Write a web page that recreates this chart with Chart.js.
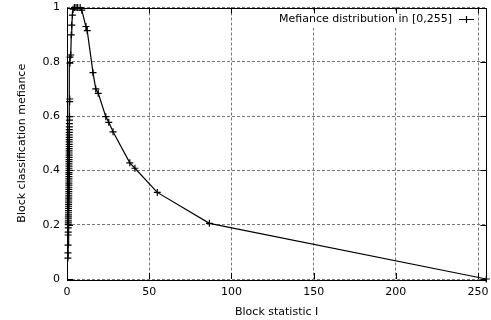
<!DOCTYPE html>
<html>
<head>
<meta charset="utf-8">
<script src="https://cdn.jsdelivr.net/npm/chart.js@4/dist/chart.umd.min.js"></script>
<style>
  html, body { margin: 0; padding: 0; background: #fff; }
  #wrap { width: 491px; height: 320px; }
</style>
</head>
<body>
<div id="wrap"><canvas id="c" width="491" height="320"></canvas></div>
<script>
const seriesLabel = "Mefiance distribution in [0,255]";
const xTitle = "Block statistic I";
const yTitle = "Block classification mefiance";

const statisticI = [
  0.55, 0.6, 0.65, 0.7, 0.72, 0.75, 0.78, 0.8, 0.82, 0.84,
  0.86, 0.88, 0.9, 0.92, 0.94, 0.96, 0.98, 1.0, 1.02, 1.04,
  1.06, 1.08, 1.1, 1.11, 1.12, 1.13, 1.14, 1.15, 1.16, 1.17,
  1.18, 1.19, 1.2, 1.21, 1.22, 1.23, 1.24, 1.25, 1.26, 1.27,
  1.28, 1.29, 1.3, 1.31, 1.32, 1.33, 1.34, 1.35, 1.36, 1.38,
  1.4, 1.42, 1.45, 1.5, 1.55, 1.6, 1.65, 1.8, 1.85, 2.3,
  2.6, 2.9, 3.3, 3.7, 4.5, 5.5, 6.5, 8.0, 9.0, 11.5,
  12.3, 15.8, 17.5, 19.0, 23.6, 25.4, 28.0, 38.2, 41.3, 54.9,
  86.6, 255
];
const mefiance = [
  0.077, 0.096, 0.125, 0.162, 0.173, 0.188, 0.200, 0.207, 0.214, 0.222,
  0.229, 0.236, 0.244, 0.252, 0.260, 0.268, 0.275, 0.283, 0.291, 0.298,
  0.306, 0.314, 0.322, 0.330, 0.338, 0.346, 0.353, 0.361, 0.369, 0.377,
  0.385, 0.392, 0.400, 0.408, 0.416, 0.424, 0.432, 0.440, 0.448, 0.456,
  0.464, 0.472, 0.480, 0.488, 0.496, 0.505, 0.513, 0.522, 0.531, 0.540,
  0.550, 0.560, 0.572, 0.585, 0.598, 0.653, 0.663, 0.795, 0.817, 0.825,
  0.899, 0.935, 0.972, 0.994, 1.000, 1.000, 1.000, 1.000, 0.990, 0.930,
  0.915, 0.760, 0.700, 0.684, 0.598, 0.577, 0.542, 0.428, 0.408, 0.319,
  0.205, 0.0
];
const xTickValues = [0, 50, 100, 150, 200, 250];
const yTickValues = [0, 0.2, 0.4, 0.6, 0.8, 1];
const yTickLabels = ["0", "0.2", "0.4", "0.6", "0.8", "1"];

const points = statisticI.map((x, i) => ({ x: x, y: mefiance[i] }));

const FONT = { family: "'DejaVu Sans', sans-serif", size: 11 };

const framePlugin = {
  id: 'frame',
  afterDraw(chart) {
    const ctx = chart.ctx;
    const a = chart.chartArea;
    const xs = chart.scales.x, ys = chart.scales.y;
    ctx.save();
    // legend (opaque key)
    const ds = chart.data.datasets[0];
    ctx.font = "11px 'DejaVu Sans', sans-serif";
    const textRight = 452, cy = 19;
    const tw = ctx.measureText(ds.label).width;
    ctx.fillStyle = '#fff';
    ctx.fillRect(textRight - tw - 3, cy - 8, (476 - (textRight - tw - 3)), 17);
    ctx.fillStyle = '#000';
    ctx.textAlign = 'right';
    ctx.textBaseline = 'middle';
    ctx.fillText(ds.label, textRight, cy);
    ctx.strokeStyle = '#000';
    ctx.lineWidth = 1.2;
    ctx.beginPath();
    ctx.moveTo(459, cy + 0.5); ctx.lineTo(474, cy + 0.5);
    ctx.moveTo(466.5, cy - 3); ctx.lineTo(466.5, cy + 4);
    ctx.stroke();
    // border
    ctx.lineWidth = 1;
    ctx.strokeStyle = '#000';
    ctx.strokeRect(Math.round(a.left) + 0.5, Math.round(a.top) + 0.5,
                   Math.round(a.right - a.left), Math.round(a.bottom - a.top));
    // inward ticks
    const L = 6;
    ctx.beginPath();
    xs.ticks.forEach(t => {
      const px = Math.round(xs.getPixelForValue(t.value)) + 0.5;
      ctx.moveTo(px, a.bottom); ctx.lineTo(px, a.bottom - L);
      ctx.moveTo(px, a.top); ctx.lineTo(px, a.top + L);
    });
    ys.ticks.forEach(t => {
      const py = Math.round(ys.getPixelForValue(t.value)) + 0.5;
      ctx.moveTo(a.left, py); ctx.lineTo(a.left + L, py);
      ctx.moveTo(a.right, py); ctx.lineTo(a.right - L, py);
    });
    ctx.stroke();
    ctx.restore();
  }
};

new Chart(document.getElementById('c'), {
  type: 'scatter',
  data: {
    datasets: [{
      label: seriesLabel,
      data: points,
      showLine: true,
      clip: false,
      borderColor: '#000',
      backgroundColor: '#000',
      borderWidth: 1.2,
      pointStyle: 'cross',
      pointRadius: 3.5,
      pointBorderWidth: 1.2,
      pointBorderColor: '#000',
      pointHoverRadius: 3.5,
      tension: 0
    }]
  },
  options: {
    responsive: false,
    animation: false,
    events: [],
    layout: { padding: { top: 7.5, right: 4.5, left: 0, bottom: 0 } },
    plugins: {
      legend: { display: false },
      tooltip: { enabled: false }
    },
    scales: {
      x: {
        type: 'linear',
        min: 0, max: 255,
        afterFit(s) { s.height = 41; s.paddingLeft = 0; s.paddingRight = 0; },
        afterBuildTicks(s) { s.ticks = xTickValues.map(v => ({ value: v })); },
        ticks: { color: '#000', font: FONT, padding: 7, maxRotation: 0, autoSkip: false,
                 callback: v => String(v) },
        grid: { color: '#777', lineWidth: 1, drawTicks: false },
        border: { display: false, dash: [3, 2] },
        title: { display: true, text: xTitle, color: '#000', font: FONT, padding: { top: 0, bottom: 1 } }
      },
      y: {
        type: 'linear',
        min: 0, max: 1,
        afterFit(s) { s.width = 67; s.paddingTop = 0; s.paddingBottom = 0; },
        afterBuildTicks(s) { s.ticks = yTickValues.map(v => ({ value: v })); },
        ticks: { color: '#000', font: FONT, padding: 7, autoSkip: false,
                 callback: (v, i) => yTickLabels[i] },
        grid: { color: '#777', lineWidth: 1, drawTicks: false },
        border: { display: false, dash: [3, 2] },
        title: { display: true, text: yTitle, color: '#000', font: FONT, padding: { top: 16, bottom: 0 } }
      }
    }
  },
  plugins: [framePlugin]
});
</script>
</body>
</html>
